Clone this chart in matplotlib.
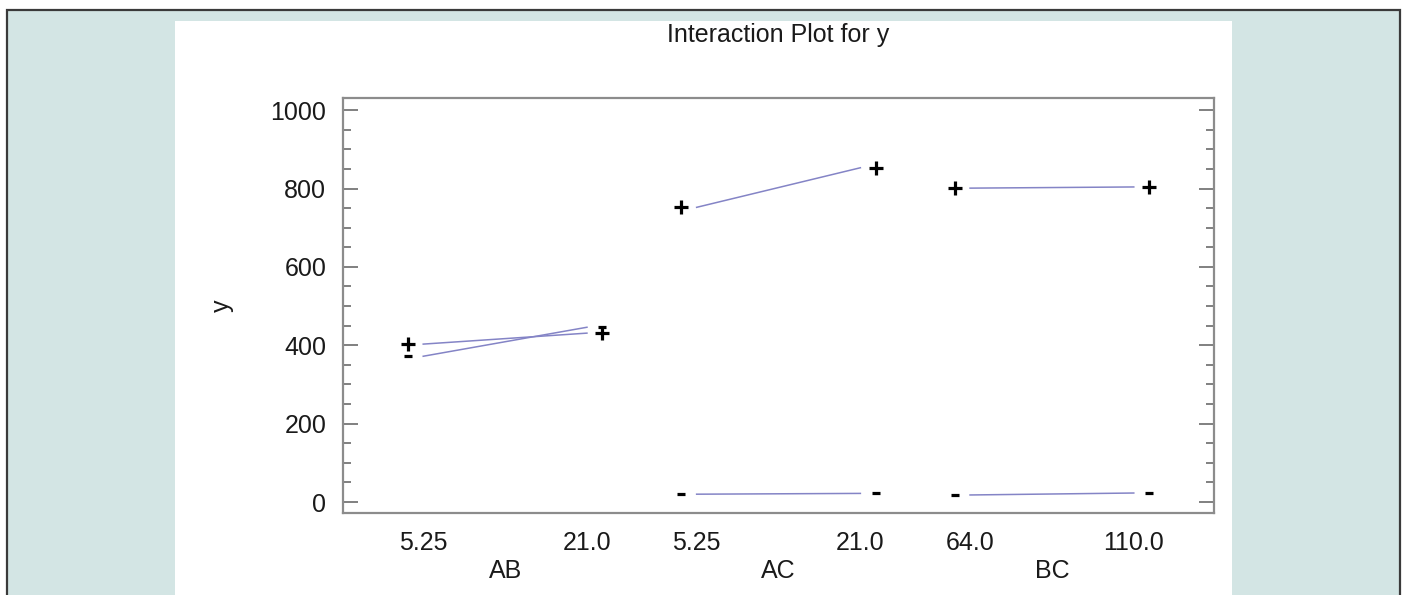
import numpy as np
import matplotlib.pyplot as plt
from matplotlib.patches import Rectangle
from matplotlib.ticker import MultipleLocator
import matplotlib.transforms as mtransforms

plt.rcParams['font.family'] = ['Liberation Sans', 'DejaVu Sans']

# ---- data ----
factors = ["AB", "AC", "BC"]
level_labels = [["5.25", "21.0"], ["5.25", "21.0"], ["64.0", "110.0"]]
y_plus = [[403, 431], [752, 853], [801, 804]]
y_minus = [[372, 446], [20, 22], [18, 23]]

W, H = 1404, 595
fig = plt.figure(figsize=(W / 100, H / 100), dpi=100, facecolor="white")

# outer frame + teal background (bottom edge runs off the picture)
fig.patches.append(Rectangle((7 / W, -0.05), (1400 - 7) / W, (H - 10) / H + 0.05,
                             transform=fig.transFigure, facecolor="#d3e5e4",
                             edgecolor="#3a3a3a", linewidth=1.6, zorder=-2))
# white panel
fig.patches.append(Rectangle((175 / W, 0), (1232 - 175) / W, (H - 21) / H,
                             transform=fig.transFigure, facecolor="white",
                             edgecolor="none", zorder=-1))

ax = fig.add_axes([343 / W, (H - 513) / H, (1214 - 343) / W, (513 - 98) / H], zorder=2)
ax.set_facecolor("white")

gap = 1.67  # distance between group starts
line_col = "#8484c6"
txt_col = "#1a1a1a"
fs = 18
xs_all, lab_all = [], []
left = mtransforms.offset_copy(ax.transData, fig=fig, x=-11, y=0, units="points")
right = mtransforms.offset_copy(ax.transData, fig=fig, x=11, y=0, units="points")
for i, f in enumerate(factors):
    x = np.array([0, 1]) + i * gap
    xs_all += list(x)
    lab_all += level_labels[i]
    for vals, mk, ms in [(y_plus[i], "+", 10.5), (y_minus[i], "_", 6)]:
        ax.plot(x, vals, color=line_col, linewidth=1.1, zorder=2)
        ax.plot(x[0], vals[0], marker=mk, color="black", markersize=ms, mew=2.3,
                transform=left, zorder=3)
        ax.plot(x[1], vals[1], marker=mk, color="black", markersize=ms, mew=2.3,
                transform=right, zorder=3)
    ax.text(x.mean(), -0.11, f, transform=ax.get_xaxis_transform(), ha="center",
            va="top", fontsize=fs, color=txt_col)

ax.set_xlim(-0.49, 2 * gap + 1.49)
ax.set_ylim(-28, 1031)
ax.set_xticks(xs_all)
ax.set_xticklabels(lab_all, fontsize=fs, color=txt_col)
ax.tick_params(axis="x", length=0, pad=13)

ax.yaxis.set_major_locator(MultipleLocator(200))
ax.yaxis.set_minor_locator(MultipleLocator(50))
ax.tick_params(axis="y", which="both", direction="in", right=True, color="#808080",
               width=1.4, labelsize=fs, labelcolor=txt_col, pad=12)
ax.tick_params(axis="y", which="major", length=11)
ax.tick_params(axis="y", which="minor", length=6)

for s in ax.spines.values():
    s.set_color("#8c8c8c")
    s.set_linewidth(1.6)

ax.set_ylabel("y", fontsize=fs, color=txt_col, labelpad=26)
fig.text((343 + 1214) / 2 / W, 1 - 35 / H, "Interaction Plot for y", ha="center",
         va="center", fontsize=18, color=txt_col)

fig.savefig("out.png", dpi=100, facecolor=fig.get_facecolor())
